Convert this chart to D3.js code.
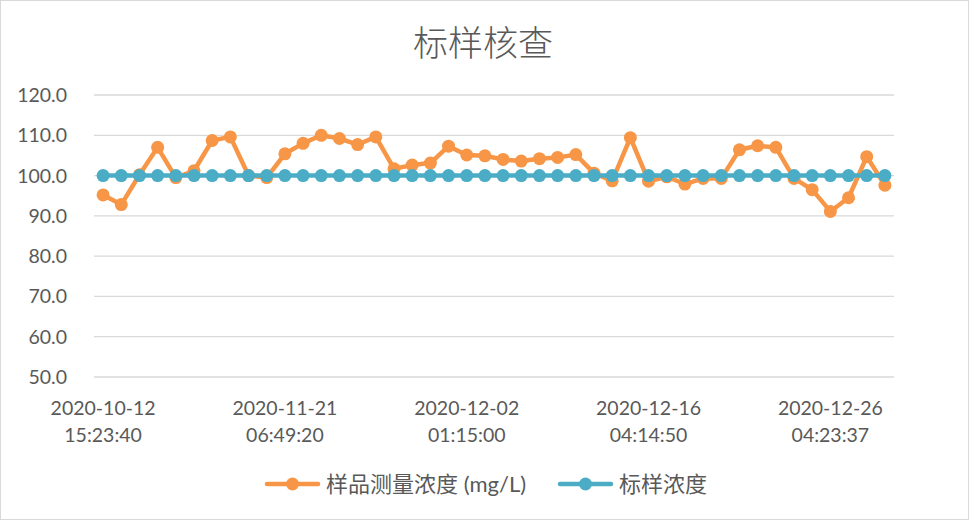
<!DOCTYPE html>
<html>
<head>
<meta charset="utf-8">
<script src="https://cdn.jsdelivr.net/npm/d3@7"></script>
<style>
  body { margin: 0; background: #fff; }
  svg text { font-family: Lato, "Noto Sans CJK SC", sans-serif; fill: #595959; }
</style>
</head>
<body>
<div id="chart"></div>
<script>
var width = 969;
var height = 520;

var title = '标样核查';
var seriesNames = ['样品测量浓度 (mg/L)', '标样浓度'];

// every 10th category carries a label
var tickLabels = [
  ['2020-10-12', '15:23:40'],
  ['2020-11-21', '06:49:20'],
  ['2020-12-02', '01:15:00'],
  ['2020-12-16', '04:14:50'],
  ['2020-12-26', '04:23:37']
];

var sampleValues = [
  95.2, 92.8, 100.2, 107.0, 99.5, 101.2, 108.7, 109.6, 100.0, 99.5,
  105.4, 108.0, 110.0, 109.2, 107.7, 109.6, 101.7, 102.6, 103.1, 107.3,
  105.1, 104.9, 104.0, 103.6, 104.2, 104.5, 105.2, 100.6, 98.7, 109.4,
  98.6, 99.7, 97.9, 99.3, 99.3, 106.4, 107.4, 107.0, 99.3, 96.5,
  91.1, 94.5, 104.7, 97.6
];
var standardValues = sampleValues.map(function () { return 100; });

var categories = sampleValues.map(function (d, i) { return i; });
var yTicks = [50, 60, 70, 80, 90, 100, 110, 120];

var colors = ['#F79646', '#4BACC6'];

var margin = { left: 94, right: 75, top: 95, bottom: 143 };

var svg = d3.select('#chart').append('svg')
    .attr('width', width)
    .attr('height', height);

svg.append('rect')
    .attr('x', 0.5).attr('y', 0.5)
    .attr('width', width - 1).attr('height', height - 1)
    .attr('fill', '#fff')
    .attr('stroke', '#d9d9d9');

var x = d3.scaleBand()
    .domain(categories)
    .range([margin.left, width - margin.right]);

var y = d3.scaleLinear()
    .domain([50, 120])
    .range([height - margin.bottom, margin.top]);

// gridlines
svg.append('g')
    .selectAll('line')
    .data(yTicks)
    .enter().append('line')
    .attr('x1', margin.left)
    .attr('x2', width - margin.right)
    .attr('y1', function (d) { return y(d); })
    .attr('y2', function (d) { return y(d); })
    .attr('stroke', '#d9d9d9')
    .attr('stroke-width', 1.3);

// y labels
svg.append('g')
    .selectAll('text')
    .data(yTicks)
    .enter().append('text')
    .attr('x', 67)
    .attr('y', function (d) { return y(d); })
    .attr('dy', '0.36em')
    .attr('text-anchor', 'end')
    .style('font-size', '19.5px')
    .text(function (d) { return d.toFixed(1); });

// x labels
var xl = svg.append('g')
    .selectAll('text')
    .data(tickLabels)
    .enter().append('text')
    .attr('text-anchor', 'middle')
    .attr('transform', function (d, i) {
      return 'translate(' + (x(i * 10) + x.bandwidth() / 2) + ',' + 415 + ')';
    })
    .style('font-size', '19.5px');
xl.append('tspan').attr('x', 0).attr('y', 0).text(function (d) { return d[0]; });
xl.append('tspan').attr('x', 0).attr('y', 27).text(function (d) { return d[1]; });

function cx(i) { return x(i) + x.bandwidth() / 2; }

var line = d3.line()
    .x(function (d, i) { return cx(i); })
    .y(function (d) { return y(d); });

[sampleValues, standardValues].forEach(function (vals, s) {
  var g = svg.append('g');
  g.append('path')
      .datum(vals)
      .attr('d', line)
      .attr('fill', 'none')
      .attr('stroke', colors[s])
      .attr('stroke-width', 4.5)
      .attr('stroke-linejoin', 'round');
  g.selectAll('circle')
      .data(vals)
      .enter().append('circle')
      .attr('cx', function (d, i) { return cx(i); })
      .attr('cy', function (d) { return y(d); })
      .attr('r', 6.5)
      .attr('fill', colors[s]);
});

// title
svg.append('text')
    .attr('x', 483)
    .attr('y', 56)
    .attr('text-anchor', 'middle')
    .style('font-family', '"Noto Sans CJK SC", sans-serif')
    .style('font-weight', 300)
    .style('font-size', '35px')
    .text(title);

// legend
var legendX = [267, 560];
seriesNames.forEach(function (name, s) {
  var g = svg.append('g').attr('transform', 'translate(' + legendX[s] + ',484)');
  g.append('line')
      .attr('x1', 0).attr('x2', 51)
      .attr('stroke', colors[s])
      .attr('stroke-width', 4.5)
      .attr('stroke-linecap', 'round');
  g.append('circle').attr('cx', 25.5).attr('r', 6.5).attr('fill', colors[s]);
  g.append('text')
      .attr('x', 59)
      .attr('dy', '0.36em')
      .style('font-size', '22px')
      .text(name);
});
</script>
</body>
</html>
